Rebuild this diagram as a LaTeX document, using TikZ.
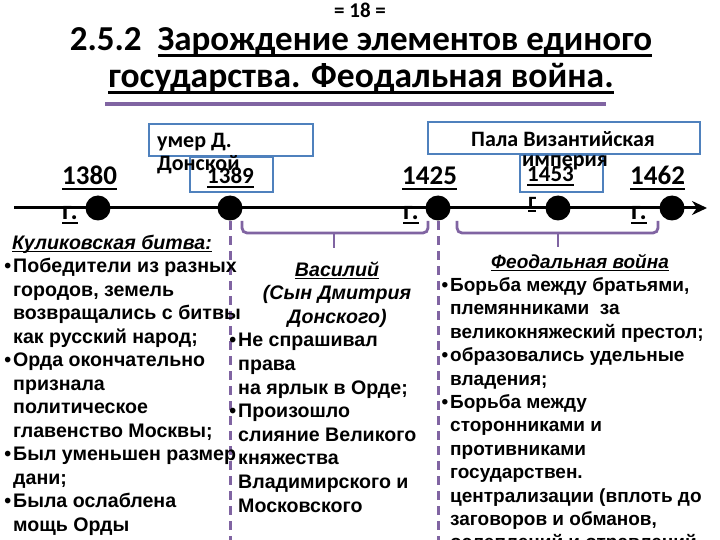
\documentclass[tikz,border=0pt]{standalone}
\usepackage{fontspec}
\setmainfont{Liberation Sans}
\newfontfamily\calfont{Carlito}
\usetikzlibrary{arrows.meta}
\definecolor{purp}{RGB}{128,100,162}
\definecolor{boxblue}{RGB}{79,129,189}
\newcommand\myul[1]{\setbox0\hbox{#1}\rlap{\rule[-0.17em]{\wd0}{0.075em}}\box0}
\newcommand\bul{\llap{•\kern2pt}}
\begin{document}
\begin{tikzpicture}[x=1pt,y=-1pt,
  body/.style={inner sep=0pt, anchor=base west, font=\fontsize{19.6}{23}\selectfont\bfseries},
  rbody/.style={body, font=\fontsize{19}{23}\selectfont\bfseries},
  bodyc/.style={body, anchor=base},
  year/.style={inner sep=0pt, anchor=base west, font=\calfont\bfseries\fontsize{27}{32}\selectfont},
  syear/.style={inner sep=0pt, anchor=base west, font=\calfont\bfseries\fontsize{23}{27}\selectfont},
  btxt/.style={inner sep=0pt, font=\calfont\bfseries\fontsize{22}{26}\selectfont},
  bbox/.style={draw=boxblue, line width=2.5pt, fill=white, inner sep=0pt},
  dot/.style={circle, fill=black, inner sep=0pt, minimum size=25pt},
  dashl/.style={draw=purp, line width=3pt, dash pattern=on 9pt off 6pt},
  brk/.style={draw=purp, line width=2.8pt, rounded corners=5pt}]
\useasboundingbox (0,0) rectangle (720,540);
% title
\node[inner sep=0pt, anchor=base, font=\calfont\bfseries\fontsize{21}{24}\selectfont] (pg) at (360,18) {= 18 =};
\node[inner sep=0pt, anchor=base, font=\calfont\bfseries\fontsize{35}{40}\selectfont] (t1) at (361,51) {2.5.2\ \ \myul{Зарождение элементов единого}};
\node[inner sep=0pt, anchor=base, font=\calfont\bfseries\fontsize{35.5}{40}\selectfont] (t2) at (361,88) {\myul{государства. Феодальная война.}};
\coordinate (ul0) at (105,104);
\coordinate (ul1) at (606,104);
\draw[purp, line width=4pt] (ul0) -- (ul1);
% boxes
\node[bbox, minimum width=83pt, minimum height=35pt] (b1389) at (231.5,174.5) {};
\node[bbox, minimum width=164pt, minimum height=32pt] (bdied) at (231,140) {};
\node[bbox, minimum width=83pt, minimum height=37pt] (b1453) at (561.5,173.5) {};
\node[bbox, minimum width=272pt, minimum height=32pt] (bfall) at (564,138) {};
% timeline
\coordinate (tl0) at (14,208);
\coordinate (tl1) at (707,208);
\draw[line width=3pt, -{Stealth[length=15pt,width=14pt]}] (tl0) -- (tl1);
% dashed lines
\coordinate (e1) at (230,540);
\coordinate (e2) at (438,540);
\draw[dashl] (230,221) -- (e1);
\draw[dashl] (438,221) -- (e2);
% brackets
\draw[brk] (242,221) -- (242,233) -- (428,233) -- (428,221);
\draw[brk] (334,233) -- (334,248);
\draw[brk] (457,221) -- (457,233) -- (658,233) -- (658,221);
\draw[brk] (558,233) -- (558,247);
% dots
\node[dot] (d1380) at (98,208) {};
\node[dot] (d1389) at (230,208) {};
\node[dot] (d1425) at (438,208) {};
\node[dot] (d1453) at (558,208) {};
\node[dot] (d1462) at (672,208) {};
% years
\node[year] (y1380) at (62,185) {\myul{1380}};
\node[year] (g1380) at (62,219) {\myul{г.}};
\node[year] (y1425) at (402,185) {\myul{1425}};
\node[year] (g1425) at (403,219) {\myul{г.}};
\node[year] (y1462) at (630,185) {\myul{1462}};
\node[year] (g1462) at (631,219) {\myul{г.}};
\node[syear] (y1389) at (207,184) {\myul{1389}};
\node[syear] (y1453) at (527,182) {\myul{1453}};
\node[syear] (g1453) at (528,208) {\myul{г}};
% box texts
\node[btxt, anchor=base west] (died1) at (157,148) {умер Д.};
\node[btxt, anchor=base west] (died2) at (157,171) {Донской};
\node[btxt, anchor=base] (fall1) at (563,147) {Пала Византийская};
\node[btxt, anchor=base] (fall2) at (565,167) {империя};
% left block
\node[body] (L0) at (12,249) {\myul{\itshape Куликовская битва:}};
\foreach \t [count=\i] in {{\bul Победители из разных},{городов, земель},{возвращались с битвы},{как русский народ;},{\bul Орда окончательно},{признала},{политическое},{главенство Москвы;},{\bul Был уменьшен размер},{дани;},{\bul Была ослаблена},{мощь Орды}}
  \node[body] (L\i) at (13,249+23.5*\i) {\t};
% middle block
\node[bodyc] (M0) at (337,276) {\myul{\itshape Василий}};
\node[bodyc] (M1) at (337,299.6) {\itshape (Сын Дмитрия};
\node[bodyc] (M2) at (337,323.2) {\itshape Донского)};
\foreach \t [count=\i from 3] in {{\bul Не спрашивал},{права},{на ярлык в Орде;},{\bul Произошло},{слияние Великого},{княжества},{Владимирского и},{Московского}}
  \node[body] (M\i) at (238,276+23.6*\i) {\t};
% right block
\node[rbody, anchor=base] (R0) at (580,268) {\myul{\itshape Феодальная война}};
\foreach \t [count=\i] in {{\bul Борьба между братьями,},{племянниками\ \ за},{великокняжеский престол;},{\bul образовались удельные},{владения;},{\bul Борьба между},{сторонниками и},{противниками},{государствен.},{централизации (вплоть до},{заговоров и обманов,},{ослеплений и отравлений.}}
  \node[rbody] (R\i) at (450,268+23.4*\i) {\t};
\end{tikzpicture}
\end{document}
